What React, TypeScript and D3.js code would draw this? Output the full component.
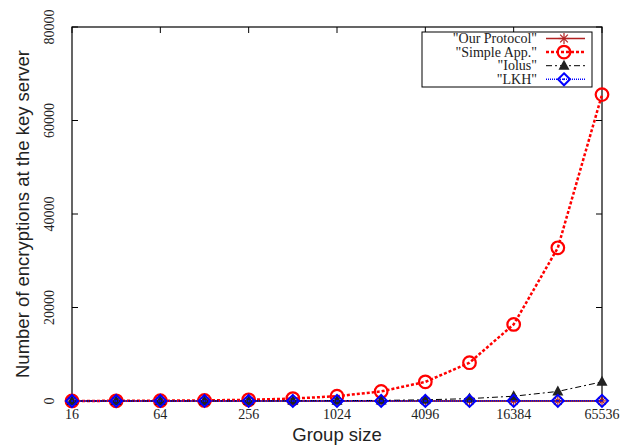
import React, { useEffect, useRef } from 'react'
import * as d3 from 'd3'

const groupSizes = [16, 32, 64, 128, 256, 512, 1024, 2048, 4096, 8192, 16384, 32768, 65536]
const xTickValues = [16, 64, 256, 1024, 4096, 16384, 65536]
const yTickValues = [0, 20000, 40000, 60000, 80000]

const ourProtocol = [4, 5, 6, 7, 8, 9, 10, 11, 12, 13, 14, 15, 16]
const simpleApp = [16, 32, 64, 128, 256, 512, 1024, 2048, 4096, 8192, 16384, 32768, 65536]
const iolus = [1, 2, 4, 8, 16, 32, 64, 128, 256, 512, 1024, 2048, 4096]
const lkh = [8, 10, 12, 14, 16, 18, 20, 22, 24, 26, 28, 30, 32]

const seriesNames = ['"Our Protocol"', '"Simple App."', '"Iolus"', '"LKH"']

const W = 635
const H = 447
const margin = { top: 27, right: 33, bottom: 46, left: 72 }

export default function App() {
  const svgRef = useRef<SVGSVGElement>(null)

  useEffect(() => {
    const svg = d3.select(svgRef.current)
    svg.selectAll('*').remove()

    const iw = W - margin.left - margin.right
    const ih = H - margin.top - margin.bottom

    const x = d3.scaleLog().base(2).domain([16, 65536]).range([0, iw])
    const y = d3.scaleLinear().domain([0, 80000]).range([ih, 0])

    const g = svg.append('g').attr('transform', `translate(${margin.left},${margin.top})`)

    // ticks, mirrored on all four sides like gnuplot
    xTickValues.forEach(v => {
      g.append('line').attr('x1', x(v)).attr('x2', x(v)).attr('y1', ih).attr('y2', ih - 6).attr('stroke', '#000')
      g.append('line').attr('x1', x(v)).attr('x2', x(v)).attr('y1', 0).attr('y2', 6).attr('stroke', '#000')
      g.append('text').attr('x', x(v)).attr('y', ih + 18)
        .attr('text-anchor', 'middle').attr('fill', '#222')
        .style('font-family', '"Liberation Serif", serif').style('font-size', '14px')
        .text(v)
    })
    yTickValues.forEach(v => {
      g.append('line').attr('x1', 0).attr('x2', 6).attr('y1', y(v)).attr('y2', y(v)).attr('stroke', '#000')
      g.append('line').attr('x1', iw).attr('x2', iw - 6).attr('y1', y(v)).attr('y2', y(v)).attr('stroke', '#000')
      g.append('text')
        .attr('transform', `translate(-18,${y(v)}) rotate(-90)`)
        .attr('text-anchor', 'middle').attr('fill', '#222')
        .style('font-family', '"Liberation Serif", serif').style('font-size', '14px')
        .text(v)
    })

    g.append('rect').attr('width', iw).attr('height', ih)
      .attr('fill', 'none').attr('stroke', '#000').attr('stroke-width', 1.2)

    // axis titles
    svg.append('text').attr('x', margin.left + iw / 2).attr('y', 441)
      .attr('text-anchor', 'middle')
      .style('font-family', '"Liberation Sans", sans-serif').style('font-size', '18.5px').attr('fill', '#222')
      .text('Group size')
    svg.append('text')
      .attr('transform', `translate(29,${margin.top + ih / 2}) rotate(-90)`)
      .attr('text-anchor', 'middle')
      .style('font-family', '"Liberation Sans", sans-serif').style('font-size', '18.5px').attr('fill', '#222')
      .text('Number of encryptions at the key server')

    const styles = [
      { color: '#b22222', dash: null, width: 1.6, marker: 'star' },
      { color: '#ff0000', dash: '3,2', width: 2.5, marker: 'circle' },
      { color: '#000000', dash: '6,3,2,3', width: 1, marker: 'triangle' },
      { color: '#0000ff', dash: '1,1', width: 1.5, marker: 'diamond' }
    ]
    const allData = [ourProtocol, simpleApp, iolus, lkh]

    const line = d3.line<[number, number]>().x(d => x(d[0])).y(d => y(d[1]))

    const drawMarker = (sel: any, kind: string, color: string, cx: number, cy: number) => {
      if (kind === 'star') {
        const r = 5.5
        const p = sel.append('g').attr('stroke', color).attr('stroke-width', 1.2)
        p.append('line').attr('x1', cx - r).attr('x2', cx + r).attr('y1', cy).attr('y2', cy)
        p.append('line').attr('x1', cx).attr('x2', cx).attr('y1', cy - r).attr('y2', cy + r)
        p.append('line').attr('x1', cx - r * 0.7).attr('x2', cx + r * 0.7).attr('y1', cy - r * 0.7).attr('y2', cy + r * 0.7)
        p.append('line').attr('x1', cx - r * 0.7).attr('x2', cx + r * 0.7).attr('y1', cy + r * 0.7).attr('y2', cy - r * 0.7)
      } else if (kind === 'circle') {
        sel.append('circle').attr('cx', cx).attr('cy', cy).attr('r', 6.3)
          .attr('fill', 'none').attr('stroke', color).attr('stroke-width', 2.2)
      } else if (kind === 'triangle') {
        sel.append('path').attr('d', `M${cx},${cy - 6}L${cx + 5.5},${cy + 4}L${cx - 5.5},${cy + 4}Z`).attr('fill', '#222')
      } else {
        sel.append('path').attr('d', `M${cx},${cy - 6}L${cx + 6},${cy}L${cx},${cy + 6}L${cx - 6},${cy}Z`)
          .attr('fill', 'none').attr('stroke', color).attr('stroke-width', 2)
        sel.append('circle').attr('cx', cx).attr('cy', cy).attr('r', 1).attr('fill', color)
      }
    }

    allData.forEach((vals, i) => {
      const s = styles[i]
      const pts: [number, number][] = groupSizes.map((n, j) => [n, vals[j]])
      g.append('path').datum(pts).attr('d', line)
        .attr('fill', 'none').attr('stroke', s.color).attr('stroke-width', s.width)
        .attr('stroke-dasharray', s.dash)
      pts.forEach(p => drawMarker(g, s.marker, s.color, x(p[0]), y(p[1])))
    })

    // legend
    const lg = svg.append('g')
    lg.append('rect').attr('x', 422).attr('y', 32).attr('width', 170).attr('height', 55)
      .attr('fill', '#fff').attr('stroke', '#000').attr('stroke-width', 1)
    seriesNames.forEach((name, i) => {
      const s = styles[i]
      const yy = 38.5 + i * 13.6
      lg.append('text').attr('x', 537).attr('y', yy + 4.5).attr('text-anchor', 'end').attr('fill', '#222')
        .style('font-family', '"Liberation Serif", serif').style('font-size', '14px')
        .text(name)
      lg.append('line').attr('x1', 546).attr('x2', 585).attr('y1', yy).attr('y2', yy)
        .attr('stroke', s.color).attr('stroke-width', s.width).attr('stroke-dasharray', s.dash)
      drawMarker(lg, s.marker, s.color, 564, yy)
    })
  }, [])

  return (
    <svg ref={svgRef} width={W} height={H}
      style={{ position: 'absolute', left: 0, top: 0, background: '#fff' }} />
  )
}
